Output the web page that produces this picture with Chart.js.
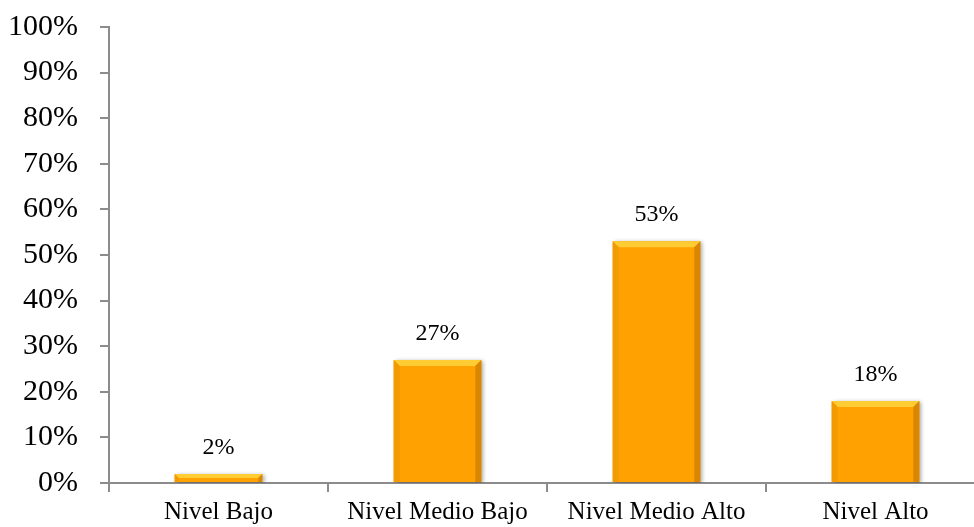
<!DOCTYPE html>
<html>
<head>
<meta charset="utf-8">
<script src="https://cdn.jsdelivr.net/npm/chart.js@4/dist/chart.umd.min.js"></script>
<style>
  html, body { margin: 0; padding: 0; background: #fff; overflow: hidden; }
  #wrap { width: 990px; height: 540px; margin-top: -13px; }
</style>
</head>
<body>
<div id="wrap"><canvas id="nivelChart"></canvas></div>
<script>
// categories and values (percent)
const categories = ["Nivel Bajo", "Nivel Medio Bajo", "Nivel Medio Alto", "Nivel Alto"];
const values = [2, 27, 53, 18];
const yTicks = [0, 10, 20, 30, 40, 50, 60, 70, 80, 90, 100];

const barColor = "#FFA100";
const axisColor = "#8c8c8c";

// bevel + shadow look of the bars
const bevelPlugin = {
    id: "bevel",
    beforeDatasetDraw(chart) {
        const ctx = chart.ctx;
        ctx.save();
        ctx.shadowColor = "rgba(0,0,0,0.35)";
        ctx.shadowBlur = 4;
        ctx.shadowOffsetX = 2;
        ctx.shadowOffsetY = 1;
    },
    afterDatasetDraw(chart) {
        const ctx = chart.ctx;
        ctx.restore();
        const meta = chart.getDatasetMeta(0);
        meta.data.forEach(bar => {
            const l = bar.x - bar.width / 2, r = bar.x + bar.width / 2;
            const t = bar.y, b = bar.base;
            const d = Math.min(6, (b - t) / 2);
            ctx.save();
            // top highlight
            ctx.fillStyle = "#FFCC33";
            ctx.beginPath();
            ctx.moveTo(l, t); ctx.lineTo(r, t); ctx.lineTo(r - d, t + d); ctx.lineTo(l + d, t + d);
            ctx.closePath(); ctx.fill();
            // left side
            ctx.fillStyle = "#F29A00";
            ctx.beginPath();
            ctx.moveTo(l, t); ctx.lineTo(l + d, t + d); ctx.lineTo(l + d, b); ctx.lineTo(l, b);
            ctx.closePath(); ctx.fill();
            // right side
            ctx.fillStyle = "#D98600";
            ctx.beginPath();
            ctx.moveTo(r, t); ctx.lineTo(r - d, t + d); ctx.lineTo(r - d, b); ctx.lineTo(r, b);
            ctx.closePath(); ctx.fill();
            ctx.restore();
        });
    }
};

// value labels above bars
const labelPlugin = {
    id: "valueLabels",
    afterDatasetsDraw(chart) {
        const ctx = chart.ctx;
        const meta = chart.getDatasetMeta(0);
        ctx.save();
        ctx.font = "24px 'Liberation Serif'";
        ctx.fillStyle = "#000";
        ctx.textAlign = "center";
        ctx.textBaseline = "alphabetic";
        meta.data.forEach((bar, i) => {
            ctx.fillText(values[i] + "%", bar.x, bar.y - 20);
        });
        ctx.restore();
    }
};

new Chart(document.querySelector("#nivelChart"), {
    type: "bar",
    data: {
        labels: categories,
        datasets: [{
            data: values,
            backgroundColor: barColor,
            borderWidth: 0,
            barPercentage: 0.4,
            categoryPercentage: 1.0
        }]
    },
    options: {
        responsive: true,
        maintainAspectRatio: false,
        animation: false,
        layout: { padding: { left: 8, right: 5, top: 3, bottom: 0 } },
        plugins: {
            legend: { display: false },
            tooltip: { enabled: false }
        },
        scales: {
            x: {
                afterFit(axis) { axis.height = 44; },
                grid: {
                    offset: true,
                    drawOnChartArea: false,
                    tickLength: 9,
                    color: axisColor,
                    lineWidth: 2
                },
                border: { color: axisColor, width: 2 },
                ticks: {
                    color: "#000",
                    font: { family: "'Liberation Serif'", size: 25 },
                    padding: 5,
                    maxRotation: 0
                }
            },
            y: {
                min: 0,
                max: 100,
                afterFit(axis) { axis.width = 101; },
                afterBuildTicks(axis) {
                    axis.ticks = yTicks.map(v => ({ value: v }));
                },
                grid: {
                    drawOnChartArea: false,
                    tickLength: 9,
                    color: axisColor,
                    lineWidth: 2
                },
                border: { color: axisColor, width: 2 },
                ticks: {
                    color: "#000",
                    font: { family: "'Liberation Serif'", size: 30 },
                    padding: 22,
                    callback: v => v + "%"
                }
            }
        }
    },
    plugins: [bevelPlugin, labelPlugin]
});
</script>
</body>
</html>
